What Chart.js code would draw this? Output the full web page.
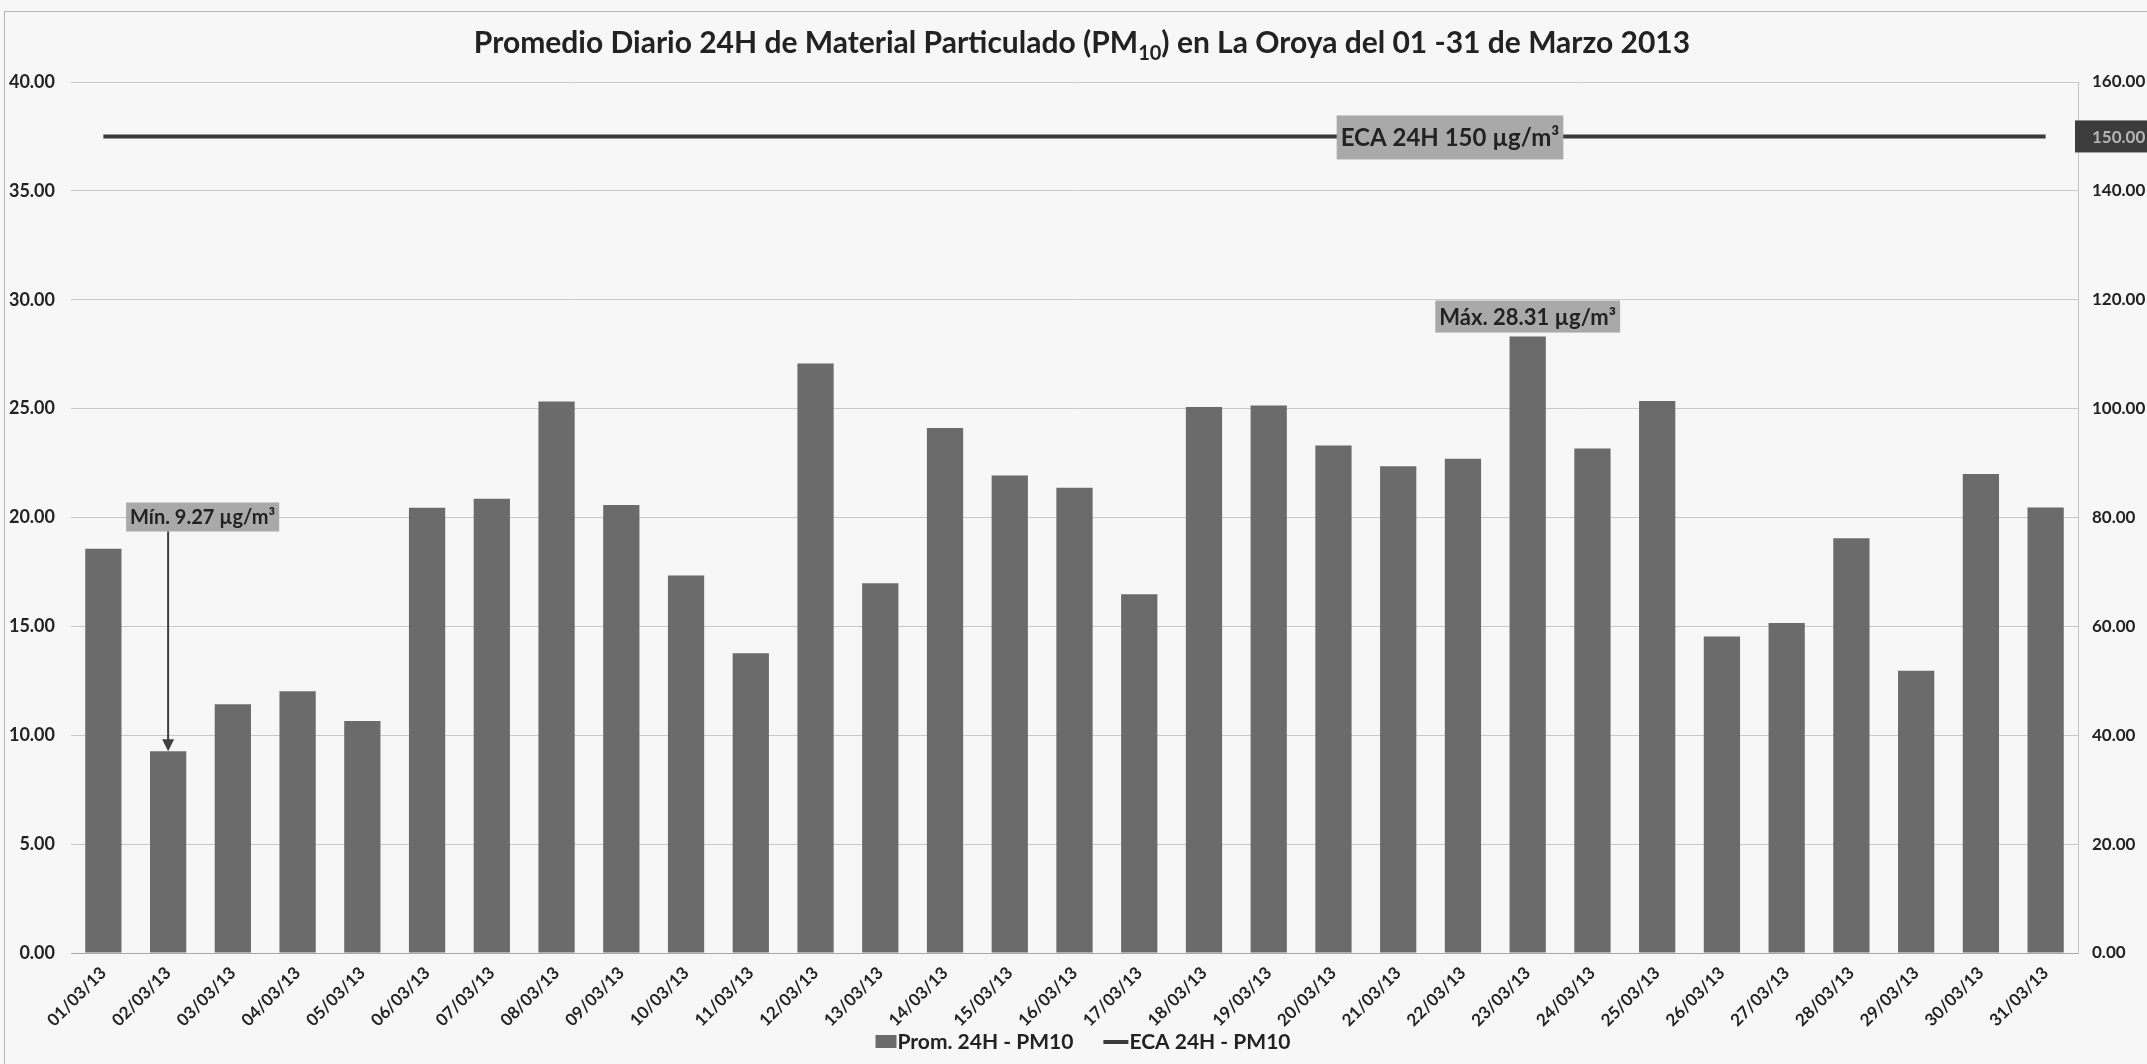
<!DOCTYPE html>
<html>
<head>
<meta charset="utf-8">
<script src="https://cdn.jsdelivr.net/npm/chart.js@4.4.1/dist/chart.umd.min.js"></script>
<style>
  html, body { margin: 0; padding: 0; background: #f7f7f7; }
  #wrap { width: 2147px; height: 1064px; }
</style>
</head>
<body>
<div id="wrap"><canvas id="myChart" width="2147" height="1064"></canvas></div>
<script>
// data
const dates = ['01/03/13','02/03/13','03/03/13','04/03/13','05/03/13','06/03/13','07/03/13','08/03/13',
  '09/03/13','10/03/13','11/03/13','12/03/13','13/03/13','14/03/13','15/03/13','16/03/13','17/03/13',
  '18/03/13','19/03/13','20/03/13','21/03/13','22/03/13','23/03/13','24/03/13','25/03/13','26/03/13',
  '27/03/13','28/03/13','29/03/13','30/03/13','31/03/13'];
const pm10 = [18.57, 9.27, 11.42, 12.02, 10.66, 20.45, 20.86, 25.33, 20.57, 17.34, 13.77, 27.07, 16.98,
  24.11, 21.93, 21.37, 16.47, 25.08, 25.14, 23.31, 22.35, 22.70, 28.31, 23.17, 25.35, 14.54, 15.15,
  19.05, 12.96, 22.00, 20.46];
const eca = [150,150,150,150,150,150,150,150,150,150,150,150,150,150,150,150,
  150,150,150,150,150,150,150,150,150,150,150,150,150,150,150];
const leftTicks = [0, 5, 10, 15, 20, 25, 30, 35, 40];
const rightTicks = [0, 20, 40, 60, 80, 100, 120, 140, 160];

const titleA = 'Promedio Diario 24H de Material Particulado (PM';
const titleSub = '10';
const titleB = ') en La Oroya del 01 -31 de Marzo 2013';
const ecaText = 'ECA 24H 150 µg/m³';
const maxText = 'Máx. 28.31 µg/m³';
const minText = 'Mín. 9.27 µg/m³';
const ecaEnd = '150.00';

const FONT = 'Lato, "Open Sans", sans-serif';
const BAR = '#6b6b6b';
const LINE = '#3b3b3b';

// title, labels, arrow, legend
const extras = {
  id: 'extras',
  beforeDraw(chart) {
    const ctx = chart.ctx;
    ctx.save();
    ctx.strokeStyle = '#b5b5b5';
    ctx.lineWidth = 1;
    ctx.strokeRect(4.5, 11.5, 2150, 1060);
    ctx.restore();
  },
  afterDatasetsDraw(chart) {
    const ctx = chart.ctx;
    const x = chart.scales.x, y = chart.scales.y, y1 = chart.scales.y1;
    const step = x.getPixelForValue(1) - x.getPixelForValue(0);
    ctx.save();

    // title with subscript
    ctx.fillStyle = '#222';
    ctx.textBaseline = 'alphabetic';
    ctx.textAlign = 'left';
    ctx.font = 'bold 30px ' + FONT;
    const wa = ctx.measureText(titleA).width;
    const wb = ctx.measureText(titleB).width;
    ctx.font = 'bold 20px ' + FONT;
    const ws = ctx.measureText(titleSub).width;
    let tx = 1082 - (wa + ws + wb) / 2;
    const ty = 53;
    ctx.font = 'bold 30px ' + FONT;
    ctx.fillText(titleA, tx, ty);
    ctx.font = 'bold 20px ' + FONT;
    ctx.fillText(titleSub, tx + wa, ty + 7);
    ctx.font = 'bold 30px ' + FONT;
    ctx.fillText(titleB, tx + wa + ws, ty);

    // ECA label box over the line
    const ey = y1.getPixelForValue(150);
    const ecx = x.getPixelForValue(20) + step * 0.8;
    ctx.font = 'bold 24px ' + FONT;
    let w = ctx.measureText(ecaText).width + 8;
    ctx.fillStyle = '#a9a9a9';
    ctx.fillRect(ecx - w / 2, ey - 21, w, 44);
    ctx.fillStyle = '#222';
    ctx.textAlign = 'center';
    ctx.textBaseline = 'middle';
    ctx.fillText(ecaText, ecx, ey + 2);

    // 150.00 end label on the right
    ctx.fillStyle = '#3c3c3c';
    ctx.fillRect(chart.chartArea.right - 3, ey - 16, 75, 32);
    ctx.fillStyle = '#b4b4b4';
    ctx.font = 'bold 17px ' + FONT;
    ctx.textAlign = 'left';
    ctx.fillText(ecaEnd, chart.chartArea.right + 14, ey + 1);

    // max label above bar 23
    const iMax = pm10.indexOf(Math.max(...pm10));
    const mx = x.getPixelForValue(iMax);
    const my = y.getPixelForValue(pm10[iMax]);
    ctx.font = 'bold 22px ' + FONT;
    w = ctx.measureText(maxText).width + 8;
    ctx.fillStyle = '#a9a9a9';
    ctx.fillRect(mx - w / 2, my - 36, w, 32);
    ctx.fillStyle = '#222';
    ctx.textAlign = 'center';
    ctx.fillText(maxText, mx, my - 19);

    // min label with arrow down to bar 2
    const iMin = pm10.indexOf(Math.min(...pm10));
    const ax = x.getPixelForValue(iMin);
    const ay = y.getPixelForValue(pm10[iMin]);
    const boxTop = y.getPixelForValue(20) - 15;
    ctx.font = 'bold 20px ' + FONT;
    w = ctx.measureText(minText).width + 8;
    const bx = ax - 42;
    ctx.fillStyle = '#a9a9a9';
    ctx.fillRect(bx, boxTop, w, 29);
    ctx.fillStyle = '#222';
    ctx.textAlign = 'left';
    ctx.fillText(minText, bx + 4, boxTop + 15);

    ctx.strokeStyle = '#404040';
    ctx.lineWidth = 2;
    ctx.beginPath();
    ctx.moveTo(ax, boxTop + 29);
    ctx.lineTo(ax, ay - 2);
    ctx.stroke();
    ctx.fillStyle = '#404040';
    ctx.beginPath();
    ctx.moveTo(ax, ay);
    ctx.lineTo(ax - 6, ay - 12);
    ctx.lineTo(ax + 6, ay - 12);
    ctx.closePath();
    ctx.fill();

    // legend: bar swatch + label, line swatch + label
    const ds = chart.data.datasets;
    const barDs = ds.find(d => d.type === 'bar');
    const lineDs = ds.find(d => d.type === 'line');
    ctx.font = 'bold 21px ' + FONT;
    const w1 = ctx.measureText(barDs.label).width;
    const w2 = ctx.measureText(lineDs.label).width;
    const total = 22 + w1 + 30 + 26 + w2;
    let lx = 1083 - total / 2;
    const ly = 1042;
    ctx.fillStyle = barDs.backgroundColor;
    ctx.fillRect(lx, ly - 7, 21, 13);
    lx += 22;
    ctx.fillStyle = '#222';
    ctx.textAlign = 'left';
    ctx.textBaseline = 'middle';
    ctx.fillText(barDs.label, lx, ly);
    lx += w1 + 30;
    ctx.strokeStyle = lineDs.borderColor;
    ctx.lineWidth = 4;
    ctx.beginPath();
    ctx.moveTo(lx, ly);
    ctx.lineTo(lx + 25, ly);
    ctx.stroke();
    lx += 26;
    ctx.fillText(lineDs.label, lx, ly);

    ctx.restore();
  }
};

const ctx = document.getElementById('myChart').getContext('2d');
const myChart = new Chart(ctx, {
  data: {
    labels: dates,
    datasets: [
      {
        type: 'line',
        label: 'ECA 24H - PM10',
        data: eca,
        yAxisID: 'y1',
        borderColor: LINE,
        backgroundColor: LINE,
        borderWidth: 4,
        pointRadius: 0,
        order: 1
      },
      {
        type: 'bar',
        label: 'Prom. 24H - PM10',
        data: pm10,
        yAxisID: 'y',
        backgroundColor: BAR,
        barPercentage: 0.56,
        categoryPercentage: 1,
        order: 2
      }
    ]
  },
  options: {
    responsive: false,
    devicePixelRatio: 1,
    animation: false,
    layout: { padding: { top: 82, bottom: 37, left: 0, right: 0 } },
    scales: {
      x: {
        grid: { display: false },
        border: { display: true, color: '#a8a8a8' },
        ticks: {
          autoSkip: false, maxRotation: 45, minRotation: 45, padding: 2,
          color: '#222',
          font: { family: FONT, weight: 'bold', size: 17 }
        },
        afterFit(s) { s.height = 74; }
      },
      y: {
        position: 'left',
        min: 0, max: 40,
        afterBuildTicks(s) { s.ticks = leftTicks.map(v => ({ value: v })); },
        grid: { color: '#c9c9c9', drawTicks: false },
        border: { display: false },
        ticks: {
          padding: 16, color: '#222',
          font: { family: FONT, weight: 'bold', size: 18 },
          callback: v => v.toFixed(2)
        },
        afterFit(s) { s.width = 71; }
      },
      y1: {
        position: 'right',
        min: 0, max: 160,
        afterBuildTicks(s) { s.ticks = rightTicks.map(v => ({ value: v })); },
        grid: { drawOnChartArea: false, drawTicks: false },
        border: { display: true, color: '#c4c4c4' },
        ticks: {
          padding: 14, color: '#222',
          font: { family: FONT, weight: 'bold', size: 17 },
          callback: v => v.toFixed(2)
        },
        afterFit(s) { s.width = 69; }
      }
    },
    plugins: {
      title: { display: false },
      tooltip: { enabled: false },
      legend: { display: false }
    }
  },
  plugins: [extras]
});
</script>
</body>
</html>
